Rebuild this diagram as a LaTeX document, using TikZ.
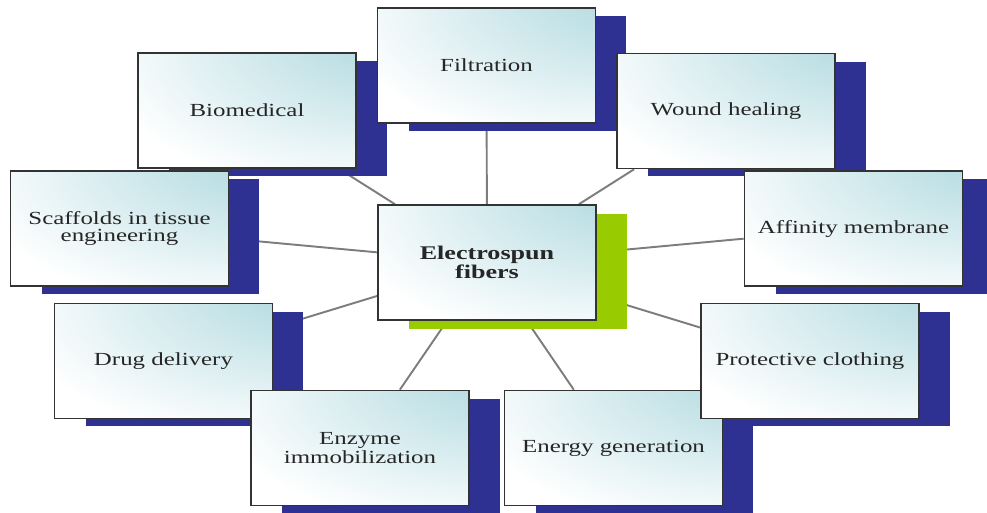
\documentclass[tikz,border=0pt]{standalone}
\usepackage{fontspec}
\setmainfont{Liberation Serif}[FakeStretch=1.35]
\usetikzlibrary{shadows,backgrounds}

\definecolor{appteal}{RGB}{165,212,219}
\definecolor{appblue}{RGB}{46,49,146}
\definecolor{appgreen}{RGB}{153,204,0}
\definecolor{applink}{RGB}{125,125,125}

% glow in the upper right corner of each panel
\pgfdeclareradialshading{cornerglow}{\pgfpoint{50bp}{50bp}}{color(0bp)=(appteal); color(10bp)=(appteal); color(56bp)=(white); color(100bp)=(white)}

\tikzset{
	panel/.style={draw=black!80, line width=0.9pt, minimum width=4.36cm, minimum height=2.3cm,
		inner sep=0pt, align=center, text=black!85, shade, shading=cornerglow},
	appbox/.style={panel, drop shadow={shadow xshift=0.62cm, shadow yshift=-0.16cm, fill=appblue, opacity=1}},
	hubbox/.style={panel, font=\fontsize{11}{10}\selectfont\bfseries, drop shadow={shadow xshift=0.62cm, shadow yshift=-0.18cm, fill=appgreen, opacity=1}},
	link/.style={draw=applink, line width=1.1pt}
}

\begin{document}
\begin{tikzpicture}[x=0.02cm, y=-0.02cm, font=\fontsize{10.5}{9.5}\selectfont]
		\useasboundingbox (0,0) rectangle (987,513);

		\node[appbox] (bio) at (247, 110.5) {Biomedical};
		\node[appbox] (fil) at (486.5, 65.5) {Filtration};
		\node[appbox] (wnd) at (726, 111) {Wound healing};
		\node[appbox] (scf) at (119.5, 228.5) {Scaffolds in tissue\\engineering};
		\node[appbox] (aff) at (853.5, 228.5) {Affinity membrane};
		\node[appbox] (drg) at (163.5, 361) {Drug delivery};
		\node[appbox] (enz) at (360, 448) {Enzyme\\immobilization};
		\node[appbox] (egy) at (613.5, 448) {Energy generation};
		\node[appbox] (prt) at (810, 361) {Protective clothing};
		\node[hubbox] (es) at (487, 262.5) {Electrospun\\fibers};

		\begin{scope}[on background layer]
		\path (es) edge[link] (bio)
		(es) edge[link] (fil)
		(es) edge[link] (wnd)
		(es) edge[link] (scf)
		(es) edge[link] (aff)
		(es) edge[link] (drg)
		(es) edge[link] (enz)
		(es) edge[link] (egy)
		(es) edge[link] (prt);
		\end{scope}
	\end{tikzpicture}
\end{document}
